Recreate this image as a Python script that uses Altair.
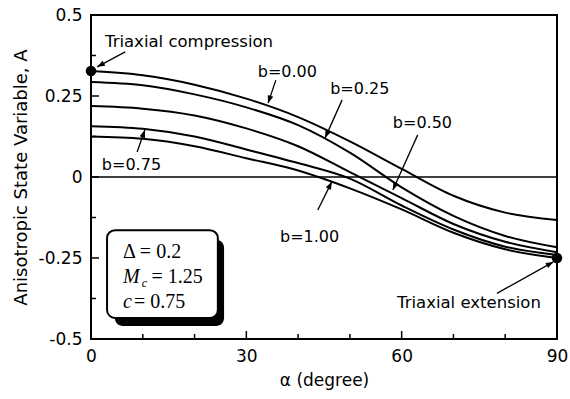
import math
import altair as alt
import pandas as pd

# Anisotropic state variable A versus loading direction alpha for several b values
alpha_deg = [0, 10, 20, 30, 40, 50, 60, 70, 80, 90]
b_labels = ["0.00", "0.25", "0.50", "0.75", "1.00"]
A_b000 = [0.327, 0.314, 0.285, 0.242, 0.185, 0.110, 0.025, -0.058, -0.110, -0.133]
A_b025 = [0.293, 0.283, 0.255, 0.215, 0.160, 0.075, -0.032, -0.120, -0.182, -0.217]
A_b050 = [0.219, 0.211, 0.190, 0.150, 0.095, 0.015, -0.065, -0.145, -0.200, -0.232]
A_b075 = [0.157, 0.149, 0.125, 0.085, 0.043, -0.005, -0.088, -0.162, -0.215, -0.241]
A_b100 = [0.125, 0.118, 0.095, 0.058, 0.020, -0.035, -0.100, -0.172, -0.223, -0.250]

# axis ticks
x_tick_labels = [0, 30, 60, 90]
y_tick_labels = [-0.5, -0.25, 0, 0.25, 0.5]
x_major_inner = [30, 60]
x_minor_inner = [10, 20, 40, 50, 70, 80]
y_major_inner = [-0.25, 0, 0.25]
y_minor_inner = [-0.375, -0.125, 0.125, 0.375]

# curve labels (text anchor) and their pointer arrows (tail -> head)
label_text = ["b=0.00", "b=0.25", "b=0.50", "b=0.75", "b=1.00"]
label_alpha = [32.2, 46.2, 58.3, 2.1, 36.5]
label_A = [0.324, 0.272, 0.167, 0.037, -0.185]
arrow_from_alpha = [35.7, 48.5, 63.1, 8.9, 43.8, 6.6, 78.4]
arrow_from_A = [0.299, 0.238, 0.130, 0.077, -0.102, 0.386, -0.359]
arrow_to_alpha = [34.2, 45.2, 58.3, 10.4, 46.5, 1.2, 89.3]
arrow_to_A = [0.228, 0.120, -0.040, 0.145, -0.015, 0.340, -0.262]

state_text = ["Triaxial compression", "Triaxial extension"]
state_alpha = [2.7, 59.1]
state_A = [0.417, -0.389]

W, H = 466, 324

rows = []
for b, vals in zip(b_labels, [A_b000, A_b025, A_b050, A_b075, A_b100]):
    for a, v in zip(alpha_deg, vals):
        rows.append({"b": b, "alpha": a, "A": v})
curve_df = pd.DataFrame(rows)

xs = alt.Scale(domain=[0, 90], nice=False, zero=False)
ys = alt.Scale(domain=[-0.5, 0.5], nice=False, zero=False)
x_axis = alt.Axis(values=x_tick_labels, title="α (degree)", titlePadding=8, labelPadding=9,
                  labelFlush=False)
y_axis = alt.Axis(values=y_tick_labels, title="Anisotropic State Variable, A",
                  labelExpr="'' + datum.value", titlePadding=8, labelPadding=9, labelFlush=False)


def X(field="alpha"):
    return alt.X(f"{field}:Q", scale=xs, axis=x_axis)


def Y(field="A"):
    return alt.Y(f"{field}:Q", scale=ys, axis=y_axis)


curves = alt.Chart(curve_df).mark_line(
    color="black", strokeWidth=2, interpolate="monotone"
).encode(x=X(), y=Y(), detail="b:N")

zero_line = alt.Chart(pd.DataFrame({"A": [0.0]})).mark_rule(
    color="black", strokeWidth=1.4
).encode(y=Y())

xt_major = alt.Chart(pd.DataFrame({"alpha": x_major_inner})).mark_rule(
    color="black", strokeWidth=1.5
).encode(x=X(), y=alt.value(H), y2=alt.value(H - 8))
xt_minor = alt.Chart(pd.DataFrame({"alpha": x_minor_inner})).mark_rule(
    color="black", strokeWidth=1.5
).encode(x=X(), y=alt.value(H), y2=alt.value(H - 5))
yt_major = alt.Chart(pd.DataFrame({"A": y_major_inner})).mark_rule(
    color="black", strokeWidth=1.5
).encode(y=Y(), x=alt.value(0), x2=alt.value(8))
yt_minor = alt.Chart(pd.DataFrame({"A": y_minor_inner})).mark_rule(
    color="black", strokeWidth=1.5
).encode(y=Y(), x=alt.value(0), x2=alt.value(5))

# parameter box with drop shadow
shadow = alt.Chart(pd.DataFrame({"alpha": [4.6], "alpha2": [25.7], "A": [-0.194], "A2": [-0.460]})).mark_rect(
    color="black", cornerRadius=8
).encode(x=X(), x2="alpha2:Q", y=Y(), y2="A2:Q")
box = alt.Chart(pd.DataFrame({"alpha": [3.1], "alpha2": [24.5], "A": [-0.164], "A2": [-0.435]})).mark_rect(
    fill="white", stroke="black", strokeWidth=2, cornerRadius=8
).encode(x=X(), x2="alpha2:Q", y=Y(), y2="A2:Q")

serif = "Liberation Serif"
box_upright = alt.Chart(pd.DataFrame({
    "alpha": [6.2, 11.7, 8.3],
    "A": [-0.250, -0.327, -0.404],
    "t": ["Δ = 0.2", "= 1.25", "= 0.75"],
})).mark_text(font=serif, fontSize=20, align="left", baseline="alphabetic", color="black").encode(
    x=X(), y=Y(), text="t:N")
box_italic = alt.Chart(pd.DataFrame({
    "alpha": [6.2, 6.2],
    "A": [-0.327, -0.404],
    "t": ["M", "c"],
})).mark_text(font=serif, fontSize=20, fontStyle="italic", align="left", baseline="alphabetic",
              color="black").encode(x=X(), y=Y(), text="t:N")
box_sub = alt.Chart(pd.DataFrame({"alpha": [9.8], "A": [-0.339], "t": ["c"]})).mark_text(
    font=serif, fontSize=12, fontStyle="italic", align="left", baseline="alphabetic", color="black"
).encode(x=X(), y=Y(), text="t:N")

b_text = alt.Chart(pd.DataFrame({"alpha": label_alpha, "A": label_A, "t": label_text})).mark_text(
    font="DejaVu Sans", fontSize=16, align="left", baseline="middle", color="black"
).encode(x=X(), y=Y(), text="t:N")
s_text = alt.Chart(pd.DataFrame({"alpha": state_alpha, "A": state_A, "t": state_text})).mark_text(
    font="DejaVu Sans", fontSize=16.5, align="left", baseline="middle", color="black"
).encode(x=X(), y=Y(), text="t:N")

# arrows: shaft + head oriented along the screen direction tail -> head
heads = []
for fa, fA, ta, tA in zip(arrow_from_alpha, arrow_from_A, arrow_to_alpha, arrow_to_A):
    dx = (ta - fa) * W / 90.0
    dy = -(tA - fA) * H / 1.0
    ang = math.degrees(math.atan2(dx, -dy)) % 360
    heads.append(ang)
arrow_df = pd.DataFrame({
    "alpha": arrow_from_alpha, "A": arrow_from_A,
    "alpha2": arrow_to_alpha, "A2": arrow_to_A,
})
shafts = alt.Chart(arrow_df).mark_rule(color="black", strokeWidth=1.3).encode(
    x=X(), y=Y(), x2="alpha2:Q", y2="A2:Q")
head_df = pd.DataFrame({"alpha": arrow_to_alpha, "A": arrow_to_A, "ang": heads})
arrow_heads = alt.Chart(head_df).mark_point(
    shape="M0,0L-0.38,1L0.38,1Z", filled=True, color="black", opacity=1, size=230, strokeWidth=0
).encode(x=X(), y=Y(), angle=alt.Angle("ang:Q", scale=None))

# end states: triaxial compression (b=0, alpha=0) and extension (b=1, alpha=90)
dots_df = pd.DataFrame({"alpha": [alpha_deg[0], alpha_deg[-1]], "A": [A_b000[0], A_b100[-1]]})
dots = alt.Chart(dots_df).mark_circle(color="black", opacity=1, size=110).encode(x=X(), y=Y())

chart = alt.layer(
    curves, zero_line, xt_major, xt_minor, yt_major, yt_minor,
    shadow, box, box_upright, box_italic, box_sub,
    b_text, s_text, shafts, arrow_heads, dots,
).properties(
    width=W, height=H,
    autosize=alt.AutoSizeParams(type="none"),
    padding={"left": 91, "top": 15, "right": 13, "bottom": 60},
    background="white",
).configure_view(
    stroke="black", strokeWidth=2
).configure_axis(
    domain=False, ticks=False, grid=False,
    labelFont="DejaVu Sans", labelFontSize=17, labelColor="black",
    titleFont="DejaVu Sans", titleFontSize=17, titleFontWeight="normal", titleColor="black",
).configure_axisY(titleFontSize=18)

chart.save("out.html", embed_options={"renderer": "svg", "actions": False})
